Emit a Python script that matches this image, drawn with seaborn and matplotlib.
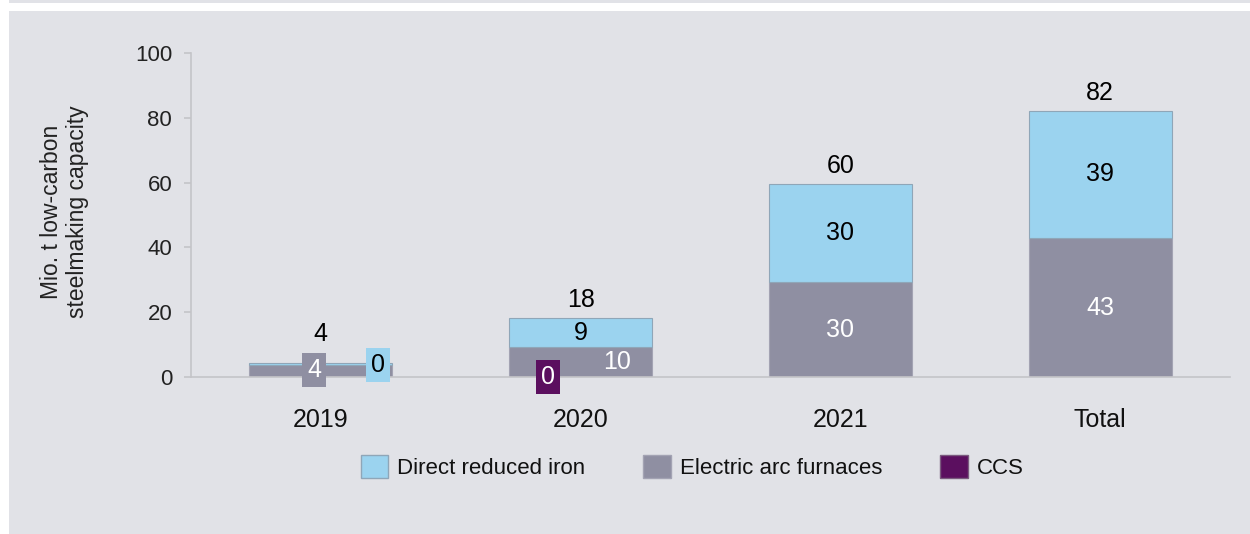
import matplotlib
matplotlib.use("Agg")
import matplotlib.pyplot as plt
from matplotlib.patches import Patch, Rectangle
import numpy as np
import pandas as pd
import seaborn as sns

# Donnees
categories = ["2019", "2020", "2021", "Total"]
eaf = [3.8, 9.3, 29.3, 42.9]        # Electric arc furnaces
dri = [0.5, 8.8, 30.2, 39.3]        # Direct reduced iron
ccs = [0.0, 0.0, 0.0, 0.0]          # CCS
eaf_labels = ["4", "10", "30", "43"]
dri_labels = ["0", "9", "30", "39"]
ccs_labels = ["", "0", "", ""]
total_labels = ["4", "18", "60", "82"]
yticks = [0, 20, 40, 60, 80, 100]

C_DRI = "#9bd3ef"
C_EAF = "#8f8fa2"
C_CCS = "#5b0f5f"
BG = "#e1e2e7"
SPINE = "#c4c4c8"

sns.set_theme(style="white")
plt.rcParams["font.family"] = ["Liberation Sans", "DejaVu Sans"]

df = pd.DataFrame({"cat": categories, "eaf": eaf, "dri": dri, "ccs": ccs})
df["bottom_dri"] = df["eaf"]
df["total"] = df["eaf"] + df["dri"]

fig = plt.figure(figsize=(12.5, 5.34), dpi=100, facecolor="white")
# fond gris du cadre
fig.add_artist(Rectangle((9 / 1250, 1 - 3 / 534), 1, 3 / 534, transform=fig.transFigure,
                         facecolor=BG, edgecolor="none", zorder=-10))
fig.add_artist(Rectangle((9 / 1250, 0), 1, 1 - 11 / 534, transform=fig.transFigure,
                         facecolor=BG, edgecolor="none", zorder=-10))

ax = fig.add_axes([191 / 1250, 1 - 377 / 534, 1039 / 1250, 324 / 534])
ax.set_facecolor(BG)

W = 0.55
sns.barplot(data=df, x="cat", y="eaf", color=C_EAF, width=W, saturation=1,
            edgecolor="#a3a3b3", linewidth=0.8, ax=ax)
sns.barplot(data=df, x="cat", y="dri", color=C_DRI, width=W, saturation=1,
            bottom=df["bottom_dri"].values, edgecolor="#8fa6b8", linewidth=0.8, ax=ax)
sns.barplot(data=df, x="cat", y="ccs", color=C_CCS, width=W, saturation=1,
            bottom=df["total"].values, linewidth=0, ax=ax)

ax.set_xlim(-0.5, 3.5)
ax.set_ylim(0, 100)
ax.set_yticks(yticks)
ax.set_xlabel("")
ax.set_ylabel("Mio. t low-carbon\nsteelmaking capacity", fontsize=16.5, color="#222222",
              linespacing=1.2)
ax.yaxis.set_label_coords(-0.098, 0.51)

for s in ["top", "right"]:
    ax.spines[s].set_visible(False)
for s in ["left", "bottom"]:
    ax.spines[s].set_color(SPINE)
    ax.spines[s].set_linewidth(1.2)
ax.tick_params(axis="y", length=5, width=1.2, color=SPINE, pad=8.5,
               labelsize=16, labelcolor="#222222", left=True)
ax.tick_params(axis="x", length=0, pad=22, labelsize=18, labelcolor="#111111")

# etiquettes de segments (decalages pour les petites valeurs)
eaf_dx = {0: -0.025, 1: 0.14}
dri_pos = {0: (0.22, 3.8)}
ccs_dx = {1: -0.125}
box = dict(boxstyle="square,pad=0.2", edgecolor="none")

for i in range(len(categories)):
    e, d = eaf[i], dri[i]
    # EAF
    xe = i + eaf_dx.get(i, 0)
    if i == 0:
        ax.text(xe, 2.1, eaf_labels[i], ha="center", va="center", fontsize=18,
                color="white", bbox={**box, "facecolor": C_EAF}, zorder=5)
    else:
        ax.text(xe, e / 2, eaf_labels[i], ha="center", va="center", fontsize=18,
                color="white", zorder=5)
    # DRI
    if i in dri_pos:
        dx, yy = dri_pos[i]
        ax.text(i + dx, yy, dri_labels[i], ha="center", va="center", fontsize=18,
                color="black", bbox={**box, "facecolor": C_DRI}, zorder=5)
    else:
        ax.text(i, e + d / 2, dri_labels[i], ha="center", va="center", fontsize=18,
                color="black", zorder=5)
    # CCS
    if ccs_labels[i]:
        ax.text(i + ccs_dx.get(i, 0), ccs[i], ccs_labels[i], ha="center", va="center",
                fontsize=18, color="white", bbox={**box, "facecolor": C_CCS},
                zorder=6, clip_on=False)
    # total
    off = 21 if i == 0 else 13
    ax.annotate(total_labels[i], (i, e + d), xytext=(0, off), textcoords="offset points",
                ha="center", va="center", fontsize=18, color="black")

handles = [Patch(facecolor=C_DRI, edgecolor="#8fa6b8", label="Direct reduced iron"),
           Patch(facecolor=C_EAF, edgecolor="#a3a3b3", label="Electric arc furnaces"),
           Patch(facecolor=C_CCS, edgecolor="#7a5a7e", label="CCS")]
fig.legend(handles=handles, loc="center", bbox_to_anchor=(692 / 1250, 1 - 467 / 534),
           ncol=3, frameon=False, fontsize=16, handlelength=1.25, handleheight=1.2,
           handletextpad=0.4, columnspacing=2.6, labelcolor="#111111")

fig.savefig("out.png", dpi=100, facecolor=fig.get_facecolor())
